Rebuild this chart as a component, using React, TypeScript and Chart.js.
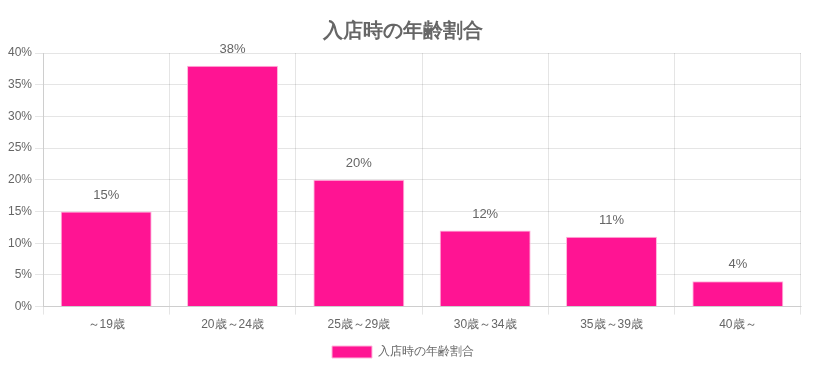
import React, { useEffect, useRef } from "react";
import { Chart, registerables } from "chart.js";

Chart.register(...registerables);

const categories = ["～19歳", "20歳～24歳", "25歳～29歳", "30歳～34歳", "35歳～39歳", "40歳～"];
const values = [15, 38, 20, 12, 11, 4];
const seriesLabel = "入店時の年齢割合";
const titleText = "入店時の年齢割合";

const valueLabels = {
  id: "valueLabels",
  afterDatasetsDraw(chart: any) {
    const ctx = chart.ctx;
    const meta = chart.getDatasetMeta(0);
    ctx.save();
    ctx.fillStyle = "#666";
    ctx.font = "13px 'Helvetica Neue', Helvetica, Arial, sans-serif";
    ctx.textAlign = "center";
    ctx.textBaseline = "bottom";
    meta.data.forEach((bar: any, i: number) => {
      ctx.fillText(values[i] + "%", bar.x, bar.y - 10);
    });
    ctx.restore();
  },
};

export default function App() {
  const ref = useRef<HTMLCanvasElement>(null);
  useEffect(() => {
    document.body.style.overflow = "hidden";
    const chart = new Chart(ref.current!, {
      type: "bar",
      data: {
        labels: categories,
        datasets: [
          {
            label: seriesLabel,
            data: values,
            backgroundColor: "#FF1493",
            borderColor: "rgba(255,182,220,1)",
            borderWidth: 1,
          },
        ],
      },
      options: {
        animation: false,
        responsive: true,
        maintainAspectRatio: false,
        layout: { padding: { top: 0, right: 1 } },
        plugins: {
          title: {
            display: true,
            text: titleText,
            color: "#666",
            font: { size: 20, weight: "bold" },
            padding: { top: 11, bottom: 10 },
          },
          legend: {
            position: "bottom",
            labels: { color: "#666", font: { size: 12 }, boxWidth: 40, padding: 11 },
          },
          tooltip: { enabled: false },
        },
        scales: {
          x: {
            ticks: { color: "#666", font: { size: 12 } },
            grid: { color: "rgba(0,0,0,0.1)", offset: true },
          },
          y: {
            min: 0,
            max: 40,
            ticks: { stepSize: 5, color: "#666", font: { size: 12 }, callback: (v: any) => v + "%" },
            grid: { color: "rgba(0,0,0,0.1)" },
          },
        },
      },
      plugins: [valueLabels],
    });
    return () => chart.destroy();
  }, []);
  return (
    <div style={{ width: 797, height: 360, position: "relative", marginLeft: -3 }}>
      <canvas ref={ref} />
    </div>
  );
}
